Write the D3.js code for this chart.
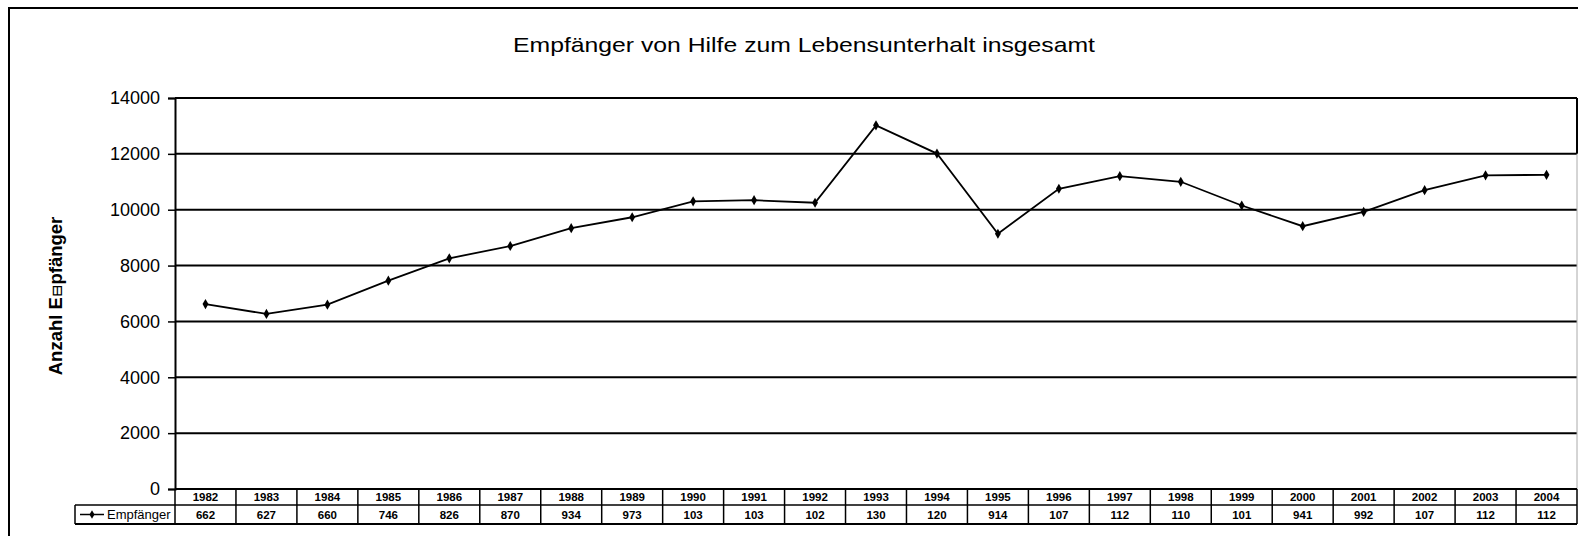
<!DOCTYPE html>
<html>
<head>
<meta charset="utf-8">
<script src="https://cdn.jsdelivr.net/npm/d3@7"></script>
<style>
  html, body { margin: 0; padding: 0; background: #fff; }
  svg { display: block; }
  text { font-family: "Liberation Sans", Arial, sans-serif; fill: #000; }
</style>
</head>
<body>
<svg id="chart" width="1578" height="536"></svg>
<script>
// ---- data ----
const years = ["1982","1983","1984","1985","1986","1987","1988","1989","1990","1991","1992","1993","1994","1995","1996","1997","1998","1999","2000","2001","2002","2003","2004"];
const values = [6620, 6270, 6600, 7460, 8260, 8700, 9340, 9730, 10300, 10340, 10250, 13020, 12010, 9140, 10750, 11200, 11000, 10150, 9410, 9920, 10700, 11230, 11250];
const yTicks = [0, 2000, 4000, 6000, 8000, 10000, 12000, 14000];
const seriesName = "Empfänger";
const titleText = "Empfänger von Hilfe zum Lebensunterhalt insgesamt";

(function () {
// ---- layout ----
const svg = d3.select("#chart");
const pLeft = 175, pRight = 1577, pTop = 98, pBottom = 489;
const row1 = 505, row2 = 524, legendLeft = 75;

const x = d3.scaleBand().domain(years).range([pLeft, pRight]);
const y = d3.scaleLinear().domain([0, 14000]).range([pBottom, pTop]);

// outer frame
svg.append("line").attr("x1", 8).attr("x2", 1578).attr("y1", 8).attr("y2", 8)
  .attr("stroke", "#000").attr("stroke-width", 2);
svg.append("line").attr("x1", 9).attr("x2", 9).attr("y1", 8).attr("y2", 536)
  .attr("stroke", "#000").attr("stroke-width", 2);

// title
svg.append("text").attr("x", 804).attr("y", 52).attr("text-anchor", "middle")
  .attr("font-size", 21).attr("textLength", 582).attr("lengthAdjust", "spacingAndGlyphs")
  .text(titleText);

// gridlines
svg.append("g").selectAll("line").data(yTicks.filter(d => d > 0)).join("line")
  .attr("x1", pLeft).attr("x2", pRight)
  .attr("y1", d => y(d)).attr("y2", d => y(d))
  .attr("stroke", "#000").attr("stroke-width", 2);

// right border of plot area
svg.append("line").attr("x1", pRight).attr("x2", pRight).attr("y1", pTop).attr("y2", y(12000))
  .attr("stroke", "#000").attr("stroke-width", 2);
svg.append("line").attr("x1", pRight).attr("x2", pRight).attr("y1", y(12000)).attr("y2", pBottom)
  .attr("stroke", "#aaa").attr("stroke-width", 1);

// y axis
const yAxis = svg.append("g").attr("transform", `translate(${pLeft},0)`)
  .call(d3.axisLeft(y).tickValues(yTicks).tickFormat(d3.format("d")).tickSize(7).tickPadding(8));
yAxis.select(".domain").attr("stroke", "#000").attr("stroke-width", 2);
yAxis.selectAll(".tick line").attr("stroke", "#000").attr("stroke-width", 1.5);
yAxis.selectAll(".tick text").attr("font-size", 18).attr("font-family", "Liberation Sans, Arial, sans-serif").attr("fill", "#000");

// y axis title
const yt = svg.append("text").attr("transform", "translate(62,296) rotate(-90)")
  .attr("text-anchor", "middle").attr("font-size", 18.5).attr("font-weight", "bold");
yt.append("tspan").text("Anzahl E");
yt.append("tspan").attr("font-family", "DejaVu Serif, serif").attr("font-weight", "normal")
  .attr("font-size", 15).text("⊟");
yt.append("tspan").text("pfänger");

// x axis line (0)
svg.append("line").attr("x1", pLeft).attr("x2", pRight).attr("y1", pBottom).attr("y2", pBottom)
  .attr("stroke", "#000").attr("stroke-width", 2);

// data table
const tbl = svg.append("g");
tbl.append("line").attr("x1", legendLeft).attr("x2", pRight).attr("y1", row1).attr("y2", row1)
  .attr("stroke", "#000").attr("stroke-width", 1.5);
tbl.append("line").attr("x1", legendLeft).attr("x2", pRight).attr("y1", row2).attr("y2", row2)
  .attr("stroke", "#000").attr("stroke-width", 2);
tbl.append("line").attr("x1", legendLeft).attr("x2", legendLeft).attr("y1", row1).attr("y2", row2)
  .attr("stroke", "#000").attr("stroke-width", 1.5);
tbl.selectAll("line.v").data(years).join("line").attr("class", "v")
  .attr("x1", d => x(d)).attr("x2", d => x(d))
  .attr("y1", pBottom).attr("y2", row2)
  .attr("stroke", "#000").attr("stroke-width", 1.5);
tbl.append("line").attr("x1", pRight).attr("x2", pRight).attr("y1", pBottom).attr("y2", row2)
  .attr("stroke", "#000").attr("stroke-width", 1.5);

tbl.selectAll("text.yr").data(years).join("text").attr("class", "yr")
  .attr("x", d => x(d) + x.bandwidth() / 2).attr("y", 501)
  .attr("text-anchor", "middle").attr("font-size", 11.5).attr("font-weight", "bold")
  .text(d => d);
tbl.selectAll("text.val").data(values).join("text").attr("class", "val")
  .attr("x", (d, i) => x(years[i]) + x.bandwidth() / 2).attr("y", 518.5)
  .attr("text-anchor", "middle").attr("font-size", 11.5).attr("font-weight", "bold")
  .text(d => String(d).slice(0, 3));

// legend cell
const lgY = (row1 + row2) / 2;
svg.append("line").attr("x1", 80).attr("x2", 104).attr("y1", lgY).attr("y2", lgY)
  .attr("stroke", "#000").attr("stroke-width", 1.5);
svg.append("path").attr("d", d3.symbol(d3.symbolDiamond, 22)())
  .attr("transform", `translate(92,${lgY})`).attr("fill", "#000");
svg.append("text").attr("x", 107).attr("y", lgY + 4.5).attr("font-size", 13).text(seriesName);

// series line
const line = d3.line().x((d, i) => x(years[i]) + x.bandwidth() / 2).y(d => y(d));
svg.append("path").datum(values).attr("d", line)
  .attr("fill", "none").attr("stroke", "#000").attr("stroke-width", 1.8);
svg.append("g").selectAll("path").data(values).join("path")
  .attr("d", d3.symbol(d3.symbolDiamond, 30)())
  .attr("transform", (d, i) => `translate(${x(years[i]) + x.bandwidth() / 2},${y(d)})`)
  .attr("fill", "#000");
})();
</script>
</body>
</html>
